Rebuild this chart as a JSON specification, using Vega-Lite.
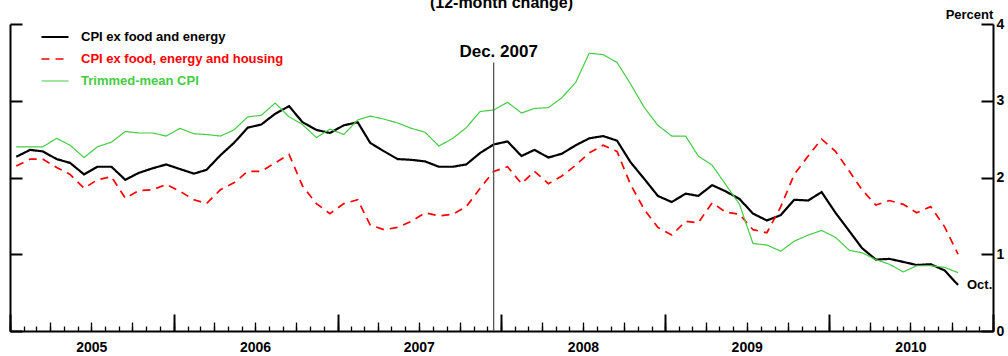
{
  "$schema": "https://vega.github.io/schema/vega-lite/v6.json",
  "width": 983,
  "height": 307,
  "autosize": {"type": "none"},
  "padding": {"left": 10, "top": 24, "right": 15, "bottom": 25},
  "background": "white",
  "config": {
    "view": {"stroke": null},
    "font": "Liberation Sans",
    "axis": {"labelFont": "Liberation Sans", "titleFont": "Liberation Sans"},
    "legend": {"labelFont": "Liberation Sans"},
    "text": {"font": "Liberation Sans"}
  },
  "title": {
    "text": "(12-month change)",
    "fontSize": 16,
    "fontWeight": "bold",
    "font": "Liberation Sans",
    "color": "black",
    "baseline": "alphabetic",
    "offset": -16,
    "anchor": "middle"
  },
  "datasets": {
    "cpi": [
      {"date": "2005/01/15", "core": 2.27, "exh": 2.15, "tm": 2.40},
      {"date": "2005/02/15", "core": 2.36, "exh": 2.24, "tm": 2.40},
      {"date": "2005/03/15", "core": 2.34, "exh": 2.24, "tm": 2.40},
      {"date": "2005/04/15", "core": 2.24, "exh": 2.13, "tm": 2.51},
      {"date": "2005/05/15", "core": 2.19, "exh": 2.04, "tm": 2.42},
      {"date": "2005/06/15", "core": 2.04, "exh": 1.86, "tm": 2.26},
      {"date": "2005/07/15", "core": 2.14, "exh": 1.97, "tm": 2.40},
      {"date": "2005/08/15", "core": 2.14, "exh": 2.01, "tm": 2.46},
      {"date": "2005/09/15", "core": 1.97, "exh": 1.73, "tm": 2.60},
      {"date": "2005/10/15", "core": 2.06, "exh": 1.83, "tm": 2.58},
      {"date": "2005/11/15", "core": 2.12, "exh": 1.84, "tm": 2.58},
      {"date": "2005/12/15", "core": 2.17, "exh": 1.91, "tm": 2.54},
      {"date": "2006/01/15", "core": 2.11, "exh": 1.82, "tm": 2.64},
      {"date": "2006/02/15", "core": 2.05, "exh": 1.71, "tm": 2.57},
      {"date": "2006/03/15", "core": 2.10, "exh": 1.66, "tm": 2.56},
      {"date": "2006/04/15", "core": 2.29, "exh": 1.84, "tm": 2.54},
      {"date": "2006/05/15", "core": 2.45, "exh": 1.93, "tm": 2.62},
      {"date": "2006/06/15", "core": 2.65, "exh": 2.08, "tm": 2.79},
      {"date": "2006/07/15", "core": 2.69, "exh": 2.08, "tm": 2.81},
      {"date": "2006/08/15", "core": 2.83, "exh": 2.19, "tm": 2.97},
      {"date": "2006/09/15", "core": 2.93, "exh": 2.30, "tm": 2.79},
      {"date": "2006/10/15", "core": 2.72, "exh": 1.89, "tm": 2.69},
      {"date": "2006/11/15", "core": 2.62, "exh": 1.66, "tm": 2.52},
      {"date": "2006/12/15", "core": 2.58, "exh": 1.53, "tm": 2.63},
      {"date": "2007/01/15", "core": 2.68, "exh": 1.66, "tm": 2.56},
      {"date": "2007/02/15", "core": 2.72, "exh": 1.71, "tm": 2.75},
      {"date": "2007/03/15", "core": 2.45, "exh": 1.38, "tm": 2.80},
      {"date": "2007/04/15", "core": 2.34, "exh": 1.32, "tm": 2.76},
      {"date": "2007/05/15", "core": 2.24, "exh": 1.35, "tm": 2.71},
      {"date": "2007/06/15", "core": 2.23, "exh": 1.43, "tm": 2.64},
      {"date": "2007/07/15", "core": 2.21, "exh": 1.54, "tm": 2.59},
      {"date": "2007/08/15", "core": 2.14, "exh": 1.50, "tm": 2.41},
      {"date": "2007/09/15", "core": 2.14, "exh": 1.52, "tm": 2.51},
      {"date": "2007/10/15", "core": 2.17, "exh": 1.62, "tm": 2.65},
      {"date": "2007/11/15", "core": 2.32, "exh": 1.86, "tm": 2.86},
      {"date": "2007/12/15", "core": 2.43, "exh": 2.08, "tm": 2.88},
      {"date": "2008/01/15", "core": 2.47, "exh": 2.14, "tm": 2.98},
      {"date": "2008/02/15", "core": 2.28, "exh": 1.92, "tm": 2.84},
      {"date": "2008/03/15", "core": 2.36, "exh": 2.08, "tm": 2.90},
      {"date": "2008/04/15", "core": 2.26, "exh": 1.92, "tm": 2.91},
      {"date": "2008/05/15", "core": 2.31, "exh": 2.02, "tm": 3.04},
      {"date": "2008/06/15", "core": 2.42, "exh": 2.16, "tm": 3.24},
      {"date": "2008/07/15", "core": 2.51, "exh": 2.32, "tm": 3.62},
      {"date": "2008/08/15", "core": 2.54, "exh": 2.42, "tm": 3.60},
      {"date": "2008/09/15", "core": 2.48, "exh": 2.34, "tm": 3.50},
      {"date": "2008/10/15", "core": 2.20, "exh": 1.91, "tm": 3.22},
      {"date": "2008/11/15", "core": 1.98, "exh": 1.58, "tm": 2.91},
      {"date": "2008/12/15", "core": 1.76, "exh": 1.35, "tm": 2.68},
      {"date": "2009/01/15", "core": 1.68, "exh": 1.25, "tm": 2.54},
      {"date": "2009/02/15", "core": 1.79, "exh": 1.43, "tm": 2.54},
      {"date": "2009/03/15", "core": 1.76, "exh": 1.41, "tm": 2.28},
      {"date": "2009/04/15", "core": 1.90, "exh": 1.67, "tm": 2.16},
      {"date": "2009/05/15", "core": 1.82, "exh": 1.55, "tm": 1.91},
      {"date": "2009/06/15", "core": 1.72, "exh": 1.52, "tm": 1.65},
      {"date": "2009/07/15", "core": 1.53, "exh": 1.32, "tm": 1.14},
      {"date": "2009/08/15", "core": 1.44, "exh": 1.28, "tm": 1.12},
      {"date": "2009/09/15", "core": 1.51, "exh": 1.62, "tm": 1.04},
      {"date": "2009/10/15", "core": 1.71, "exh": 2.04, "tm": 1.17},
      {"date": "2009/11/15", "core": 1.70, "exh": 2.28, "tm": 1.25},
      {"date": "2009/12/15", "core": 1.81, "exh": 2.50, "tm": 1.31},
      {"date": "2010/01/15", "core": 1.54, "exh": 2.34, "tm": 1.22},
      {"date": "2010/02/15", "core": 1.30, "exh": 2.08, "tm": 1.05},
      {"date": "2010/03/15", "core": 1.08, "exh": 1.84, "tm": 1.02},
      {"date": "2010/04/15", "core": 0.93, "exh": 1.64, "tm": 0.93},
      {"date": "2010/05/15", "core": 0.94, "exh": 1.70, "tm": 0.87},
      {"date": "2010/06/15", "core": 0.90, "exh": 1.65, "tm": 0.77},
      {"date": "2010/07/15", "core": 0.86, "exh": 1.54, "tm": 0.85},
      {"date": "2010/08/15", "core": 0.87, "exh": 1.62, "tm": 0.85},
      {"date": "2010/09/15", "core": 0.79, "exh": 1.36, "tm": 0.83},
      {"date": "2010/10/15", "core": 0.60, "exh": 1.00, "tm": 0.76}
    ],
    "events": [
      {"date": "2007/12/15", "v": 3.5, "label": "Dec. 2007"}
    ]
  },
  "layer": [
    {
      "data": {"name": "cpi"},
      "transform": [{"fold": ["core", "exh", "tm"], "as": ["series", "value"]}],
      "mark": {"type": "line", "strokeCap": "butt", "strokeJoin": "miter"},
      "encoding": {
        "x": {
          "field": "date",
          "type": "temporal",
          "scale": {"domain": [{"year": 2005, "month": 1, "date": 1}, {"year": 2011, "month": 1, "date": 1}]},
          "axis": {
            "orient": "bottom",
            "title": null,
            "grid": false,
            "tickCount": {"interval": "month", "step": 1},
            "labels": false,
            "domain": true,
            "domainColor": "black",
            "domainWidth": 2,
            "tickColor": "black",
            "tickWidth": 1.3,
            "tickSize": -5
          }
        },
        "y": {
          "field": "value",
          "type": "quantitative",
          "scale": {"domain": [0, 4], "nice": false, "zero": true},
          "axis": {
            "orient": "right",
            "values": [0, 1, 2, 3, 4],
            "grid": false,
            "domainColor": "black",
            "domainWidth": 2,
            "tickColor": "black",
            "tickWidth": 2,
            "tickSize": -12,
            "labelPadding": 15,
            "labelFontSize": 14,
            "labelFontWeight": "bold",
            "labelColor": "black",
            "labelBaseline": "middle",
            "title": "Percent",
            "titleAngle": 0,
            "titleX": -24,
            "titleY": -6,
            "titleAlign": "center",
            "titleBaseline": "alphabetic",
            "titleFontSize": 13,
            "titleFontWeight": "bold",
            "titleColor": "black"
          }
        },
        "color": {
          "field": "series",
          "type": "nominal",
          "scale": {"domain": ["core", "exh", "tm"], "range": ["#000000", "#ff0000", "#44cc44"]},
          "legend": {
            "orient": "none",
            "legendX": 30,
            "legendY": 6,
            "title": null,
            "padding": 0,
            "symbolType": "stroke",
            "symbolSize": 729,
            "clipHeight": 14,
            "rowPadding": 8,
            "labelOffset": 11,
            "labelFontSize": 13,
            "labelFontWeight": "bold",
            "labelLimit": 400,
            "labelColor": {"expr": "datum.value=='core' ? '#000000' : datum.value=='exh' ? '#ff0000' : '#44cc44'"},
            "labelExpr": "datum.value=='core' ? 'CPI ex food and energy' : datum.value=='exh' ? 'CPI ex food, energy and housing' : 'Trimmed-mean CPI'"
          }
        },
        "strokeDash": {
          "field": "series",
          "type": "nominal",
          "scale": {"domain": ["core", "exh", "tm"], "range": [[1, 0], [8, 6], [1, 0]]}
        },
        "strokeWidth": {
          "field": "series",
          "type": "nominal",
          "scale": {"domain": ["core", "exh", "tm"], "range": [2.2, 1.2, 1.1]}
        }
      }
    },
    {
      "data": {"name": "events"},
      "mark": {"type": "rule", "color": "#555555", "strokeWidth": 1.3},
      "encoding": {
        "x": {
          "field": "date",
          "type": "temporal",
          "axis": {
            "orient": "bottom",
            "title": null,
            "grid": false,
            "domain": false,
            "tickCount": {"interval": "month", "step": 3},
            "tickColor": "black",
            "tickWidth": 1.3,
            "tickSize": -9,
            "labelExpr": "month(datum.value)==6 ? timeFormat(datum.value,'%Y') : ''",
            "labelOverlap": false,
            "labelFlush": false,
            "labelBound": false,
            "labelPadding": 18,
            "labelFontSize": 14,
            "labelFontWeight": "bold",
            "labelColor": "black",
            "labelBaseline": "top"
          }
        },
        "y": {
          "field": "v",
          "type": "quantitative",
          "axis": {
            "orient": "left",
            "values": [0, 1, 2, 3, 4],
            "labels": false,
            "grid": false,
            "title": null,
            "domainColor": "black",
            "domainWidth": 2,
            "tickColor": "black",
            "tickWidth": 2,
            "tickSize": -12
          }
        },
        "y2": {"datum": 0}
      }
    },
    {
      "data": {"name": "events"},
      "mark": {"type": "text", "fontSize": 17, "fontWeight": "bold", "color": "black", "align": "center", "baseline": "alphabetic", "dx": 5, "dy": -5},
      "encoding": {
        "x": {
          "field": "date",
          "type": "temporal",
          "axis": {
            "orient": "bottom",
            "title": null,
            "grid": false,
            "domain": false,
            "labels": false,
            "tickCount": {"interval": "year", "step": 1},
            "tickColor": "black",
            "tickWidth": 2,
            "tickSize": -17
          }
        },
        "y": {"field": "v", "type": "quantitative", "axis": null},
        "text": {"field": "label"}
      }
    },
    {
      "data": {"name": "cpi"},
      "transform": [{"filter": "year(datum.date) == 2010 && month(datum.date) == 9"}],
      "mark": {"type": "text", "text": "Oct.", "fontSize": 13, "fontWeight": "bold", "color": "black", "align": "left", "baseline": "middle", "dx": 9, "dy": 0},
      "encoding": {
        "x": {"field": "date", "type": "temporal", "axis": null},
        "y": {"field": "core", "type": "quantitative", "axis": null}
      }
    }
  ],
  "resolve": {"axis": {"y": "independent", "x": "independent"}}
}
